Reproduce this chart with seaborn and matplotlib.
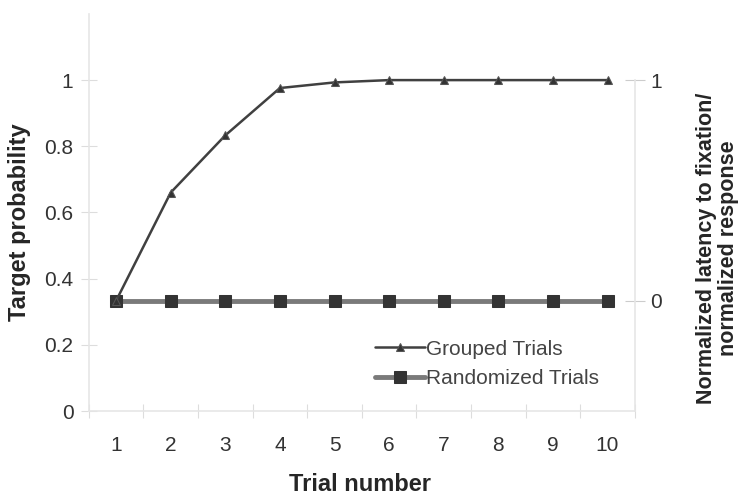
import numpy as np
import pandas as pd
import seaborn as sns
import matplotlib.pyplot as plt

trials = [1, 2, 3, 4, 5, 6, 7, 8, 9, 10]
grouped = [0.333, 0.66, 0.833, 0.976, 0.993, 1.0, 1.0, 1.0, 1.0, 1.0]
randomized = [0.333, 0.333, 0.333, 0.333, 0.333, 0.333, 0.333, 0.333, 0.333, 0.333]
left_ticks = [0, 0.2, 0.4, 0.6, 0.8, 1]
left_labels = ["0", "0.2", "0.4", "0.6", "0.8", "1"]
right_ticks = [0, 1]

df = pd.DataFrame({"Trial": trials, "Grouped Trials": grouped, "Randomized Trials": randomized})

sns.set_style("white")
plt.rcParams['font.family'] = ['Liberation Sans', 'DejaVu Sans']

fig = plt.figure(figsize=(7.46, 4.97), dpi=100)
ax = fig.add_axes([0.119, 0.173, 0.732, 0.799])

sns.lineplot(data=df, x="Trial", y="Randomized Trials", ax=ax, color="#7a7a7a", linewidth=3.5,
             marker="s", markersize=8, markerfacecolor="#333333", markeredgecolor="#333333",
             label="Randomized Trials")
sns.lineplot(data=df, x="Trial", y="Grouped Trials", ax=ax, color="#404040", linewidth=1.8,
             marker="^", markersize=6, markerfacecolor="#333333", markeredgecolor="#555555",
             label="Grouped Trials")

ax.set_xlim(0.5, 10.5)
ax.set_ylim(0, 1.2)
ax.set_yticks(left_ticks)
ax.set_yticklabels(left_labels)
ax.set_xticks(np.arange(0.5, 11, 1))
ax.set_xticklabels([])
ax.set_xticks(trials, minor=True)
ax.set_xticklabels([str(t) for t in trials], minor=True)
ax.tick_params(axis="x", which="major", length=10, color="#dddddd", direction="inout")
ax.tick_params(axis="x", which="minor", length=0, pad=18, labelsize=15, labelcolor="#333333")
ax.tick_params(axis="y", length=12, color="#dddddd", direction="inout", labelsize=15,
               labelcolor="#333333", pad=5)
ax.tick_params(left=True, bottom=True)

for side in ["top", "right"]:
    ax.spines[side].set_visible(False)
for side in ["left", "bottom"]:
    ax.spines[side].set_color("#e6e6e6")
    ax.spines[side].set_linewidth(1.2)

ax.set_xlabel("Trial number", fontsize=17, fontweight="bold")
ax.xaxis.set_label_coords(0.496, -0.155)
ax.set_ylabel("Target probability", fontsize=17, fontweight="bold")
ax.yaxis.set_label_coords(-0.106, 0.476)

ax2 = ax.twinx()
ax2.set_ylim(-0.5, 1.3)
ax2.set_yticks(right_ticks)
ax2.set_yticklabels(["0", "1"])
ax2.tick_params(axis="y", length=14, color="#cccccc", direction="inout", labelsize=15,
                labelcolor="#333333", pad=4)
ax2.tick_params(right=True)
for side in ["top", "left", "bottom"]:
    ax2.spines[side].set_visible(False)
ax2.spines["right"].set_color("#e6e6e6")
ax2.spines["right"].set_linewidth(1.2)
ax2.spines["right"].set_bounds(-0.5, 1)
ax2.set_ylabel("Normalized latency to fixation/\nnormalized response", fontsize=15.5,
               fontweight="bold", rotation=90, linespacing=1.05)
ax2.yaxis.set_label_coords(1.112, 0.41)

handles, labels = ax.get_legend_handles_labels()
order = [labels.index("Grouped Trials"), labels.index("Randomized Trials")]
ax.legend([handles[i] for i in order], [labels[i] for i in order], loc="upper left",
          bbox_to_anchor=(0.49, 0.227), frameon=False, fontsize=15, labelspacing=0.5,
          handlelength=2.4, handletextpad=0.05, labelcolor="#444444")

fig.savefig("out.png", dpi=100)
